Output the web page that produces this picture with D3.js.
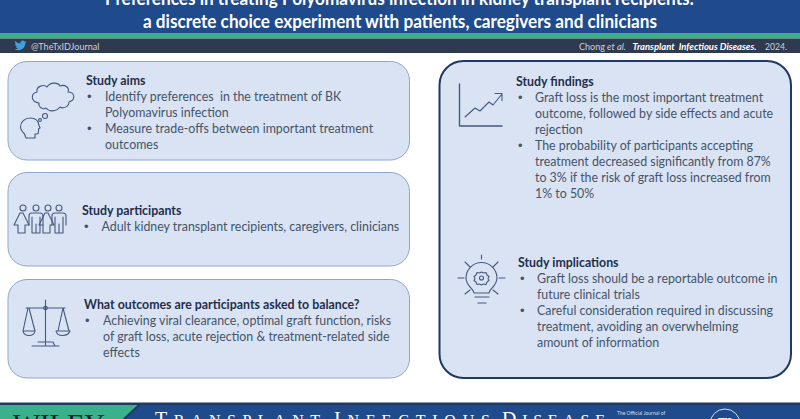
<!DOCTYPE html>
<html><head><meta charset="utf-8">
<script src="https://cdn.jsdelivr.net/npm/d3@7"></script>
<style>html,body{margin:0;padding:0;background:#fff;overflow:hidden}svg{display:block}</style>
</head><body>
<svg id="c" width="800" height="419"></svg>
<script>
const titleLines = ["Preferences in treating Polyomavirus infection in kidney transplant recipients:",
  "a discrete choice experiment with patients, caregivers and clinicians"];
const handle = "@TheTxIDJournal";
const panelNames = ["aims","participants","balance","findings","implications"];
const panelHeads = ["Study aims","Study participants","What outcomes are participants asked to balance?","Study findings","Study implications"];
const aimsBullets = [["Identify preferences  in the treatment of BK","Polyomavirus infection"],["Measure trade-offs between important treatment","outcomes"]];
const participantBullets = [["Adult kidney transplant recipients, caregivers, clinicians"]];
const balanceBullets = [["Achieving viral clearance, optimal graft function, risks","of graft loss, acute rejection & treatment-related side","effects"]];
const findingBullets = [["Graft loss is the most important treatment","outcome, followed by side effects and acute","rejection"],["The probability of participants accepting","treatment decreased significantly from 87%","to 3% if the risk of graft loss increased from","1% to 50%"]];
const implicationBullets = [["Graft loss should be a reportable outcome in","future clinical trials"],["Careful consideration required in discussing","treatment, avoiding an overwhelming","amount of information"]];
const allBullets = [aimsBullets,participantBullets,balanceBullets,findingBullets,implicationBullets];

const layout = {
  aims:{x:8,y:61.5,w:401.5,h:98.5,r:19,hx:86,hy:85,bx:87,tx:105,sw:1},
  participants:{x:8,y:172.5,w:401.5,h:93.5,r:19,hx:82,hy:214.5,bx:84,tx:101.5,sw:1},
  balance:{x:8,y:279.5,w:401.5,h:98.5,r:19,hx:84,hy:309,bx:85,tx:103,sw:1},
  findings:{x:439.5,y:61,w:351.5,h:317,r:24,hx:516,hy:86,bx:518,tx:535,sw:2},
  implications:{hx:518,hy:267,bx:520,tx:537}
};
const svg = d3.select("#c");
const font = "Lato, 'Open Sans', sans-serif";
const bodyCol = "#44546a", headCol="#1f2f4d", iconCol="#44597f";
const squeeze = (sel,k)=>{const n=sel.node(); sel.attr("textLength",n.getComputedTextLength()*k).attr("lengthAdjust","spacingAndGlyphs"); return sel;};

// bands
const bands=[[0,33,"#1f4a8c"],[33,5.5,"#3bb18a"],[38.5,14.5,"#2f3a50"],[402.5,2.5,"#1f3864"],[405,14,"#1f4a8c"]];
svg.selectAll("rect.band").data(bands).join("rect").attr("class","band")
  .attr("x",0).attr("width",800).attr("y",d=>d[0]).attr("height",d=>d[1]).attr("fill",d=>d[2]);
svg.append("path").attr("d","M0 405H139L124 419H0Z").attr("fill","#3bb18a");
svg.append("path").attr("d","M139 405L124 419").attr("stroke","#1f3864").attr("stroke-width",2);

// title
svg.selectAll("text.title").data(titleLines).join("text").attr("class","title")
  .attr("x",(d,i)=>i?400:399.5).attr("y",(d,i)=>i?28:4.5).attr("text-anchor","middle")
  .attr("fill","#fff").attr("font-family",font).attr("font-weight",700).attr("font-size",19)
  .attr("textLength",(d,i)=>i?514:589).attr("lengthAdjust","spacingAndGlyphs").text(d=>d);

// info bar
svg.append("path").attr("transform","translate(14.5,39.5) scale(.5)")
  .attr("d","M24 4.6c-.9.4-1.8.7-2.8.8 1-.6 1.8-1.6 2.2-2.7-1 .6-2 1-3.1 1.2C19.3 2.8 18 2.2 16.6 2.2c-2.7 0-4.9 2.2-4.9 4.9 0 .4 0 .8.1 1.1C7.7 8 4.1 6 1.7 3 1.2 3.7 1 4.6 1 5.500c0 1.700.9 3.200 2.200 4.100-.8 0-1.600-.2-2.200-.6v.1c0 2.400 1.700 4.400 3.900 4.800-.7.2-1.500.2-2.200.1.6 2 2.400 3.400 4.600 3.400-1.700 1.300-3.800 2.100-6.100 2.100-.4 0-.8 0-1.200-.1 2.200 1.400 4.800 2.200 7.500 2.200 9.100 0 14-7.500 14-14v-.6c1-.7 1.800-1.600 2.500-2.500z")
  .attr("fill","#3f9fe0");
svg.append("text").attr("x",31).attr("y",49.5).attr("fill","#c9d0da").attr("font-family",font).attr("font-size",10).attr("textLength",68.5).attr("lengthAdjust","spacingAndGlyphs").text(handle);
const citeParts=[["Chong",579,26,"normal",400,"#c9d0da"],["et al.",607,19,"italic",400,"#c9d0da"],["Transplant  Infectious Diseases.",632.5,124,"italic",700,"#fff"],["2024.",765,22,"normal",400,"#c9d0da"]];
svg.selectAll("text.cite").data(citeParts).join("text").attr("class","cite")
  .attr("x",d=>d[1]).attr("y",49.5).attr("textLength",d=>d[2]).attr("lengthAdjust","spacingAndGlyphs")
  .attr("font-style",d=>d[3]).attr("font-weight",d=>d[4]).attr("fill",d=>d[5]).attr("font-family",font).attr("font-size",10)
  .style("white-space","pre").text(d=>d[0]);

// panels
const boxes = panelNames.filter(n=>layout[n].w).map(n=>layout[n]);
svg.selectAll("rect.panel").data(boxes).join("rect").attr("class","panel")
  .attr("x",d=>d.x).attr("y",d=>d.y).attr("width",d=>d.w).attr("height",d=>d.h).attr("rx",d=>d.r)
  .attr("fill","#dae3f3").attr("stroke",d=>d.sw>1?"#1f3864":"#8ea6cf").attr("stroke-width",d=>d.sw);

// text
const lh = 16;
panelNames.forEach((n,i)=>{
  const L = layout[n];
  squeeze(svg.append("text").attr("x",L.hx).attr("y",L.hy).attr("fill",headCol).attr("font-family",font)
    .attr("font-weight",700).attr("font-size",13).text(panelHeads[i]),0.95);
  let row=1;
  allBullets[i].forEach(b=>{
    svg.append("text").attr("x",L.bx).attr("y",L.hy+row*lh).attr("fill",bodyCol).attr("font-family","Arial, 'Liberation Sans'").attr("font-size",13).text("•");
    b.forEach(line=>{
      squeeze(svg.append("text").attr("x",L.tx).attr("y",L.hy+row*lh).attr("fill",bodyCol).attr("font-family",font)
        .attr("font-size",13.4).style("white-space","pre").text(line),0.925);
      row++;
    });
  });
});

// icons
const icon = ()=>svg.append("g").attr("fill","none").attr("stroke",iconCol).attr("stroke-width",1.1).attr("stroke-linecap","round").attr("stroke-linejoin","round");
// thought cloud
let g = icon();
g.append("path").attr("d","M39 103c-8-1-9-9-2-11c-1-6 7-8 10-5c3-5 11-5 13-1c5-2 10 2 8 6c7 0 8 8 1 10c0 5-6 7-9 5c-4 5-11 5-14 1c-3 2-8-1-7-5Z");
g.append("circle").attr("cx",45).attr("cy",116).attr("r",2.5);
g.append("circle").attr("cx",40).attr("cy",120).attr("r",1.4);
g.append("path").attr("d","M26 138h9v-4h2c1.500 0 1.500-1 1.500-2v-3l1.500-1l-1.500-4c0-3-3-6-8-6c-6 0-10 4-10 9c0 3 2 5 4 7Z");
// people
g = icon();
[23,36,48,59].forEach((x,i)=>{
  g.append("circle").attr("cx",x).attr("cy",208).attr("r",3);
  if(i%2==0) g.append("path").attr("d",`M${x-3} 213l-6 12h4v8h7v-8h4l-6-12Z`);
  else g.append("path").attr("d",`M${x-4} 213c-2 0-3 1-3 3v9M${x+4} 213c2 0 3 1 3 3v9M${x-4} 213h8M${x-4} 217v16h8v-16M${x} 224v9`);
});
// scales
g = icon();
g.append("path").attr("d","M45.500 300v46M32 346h27M38 342h15l2 4M26 308h39M28 308l-5 23M29 308l6 23M63 308l-5 23M63 308l6 23M23 331c1 6 11 6 12 0ZM56 331c1 6 12 6 14 0Z");
g.append("circle").attr("cx",45.500).attr("cy",308).attr("r",1.800);
// chart
g = icon();
g.append("path").attr("d","M459.500 84v42h42.500").attr("stroke-width",1.4);
g.append("path").attr("d","M465 117l10-9l5 3l9-9l4 3l9-11M495 93.500h7v7");
// bulb
g = icon();
g.append("path").attr("d","M474 293c0-4-8-7-8-15a15.500 15.500 0 0 1 31 0c0 8-8 11-8 15Z");
g.append("path").attr("d","M475 297h14M478 303h8").attr("stroke-width",1.2);
g.append("circle").attr("cx",481.500).attr("cy",278).attr("r",2);
g.append("path").attr("d","M481.500 272l2 1l2.500 -.5l1 2.500l2 1.500l-1 2l1 2l-2 1.500l-1 2.500l-2.500 -.5l-2 1l-2 -1l-2.500 .5l-1-2.500l-2-1.500l1-2l-1-2l2-1.500l1-2.500l2.500 .5Z");
g.append("path").attr("d","M481.500 255v4M465 262l5 5M498 262l-5 5M458 278h6M499 278h6M465 294l5-4M498 294l-5-4");

// footer
svg.append("text").attr("x",13).attr("y",434).attr("fill","#17202f").attr("font-family","'Liberation Serif',serif").attr("font-size",30).attr("textLength",92).attr("lengthAdjust","spacingAndGlyphs").text("WILEY");
const footWords=[["T","RANSPLANT",155,165],["I","NFECTIOUS",334,156],["D","ISEASE",502,103]];
footWords.forEach(w=>{
  const t=svg.append("text").attr("x",w[2]).attr("y",426).attr("fill","#fff").attr("font-family","'Liberation Serif',serif").attr("font-size",20).attr("textLength",w[3]).attr("lengthAdjust","spacing");
  t.append("tspan").text(w[0]);
  t.append("tspan").attr("font-size",16).text(w[1]);
});
svg.append("text").attr("x",617).attr("y",415).attr("fill","#d7deea").attr("font-family",font).attr("font-size",5).text("The Official Journal of");
svg.append("circle").attr("cx",725).attr("cy",424).attr("r",15).attr("fill","none").attr("stroke","#d7deea").attr("stroke-width",1);
svg.append("text").attr("x",725).attr("y",428).attr("text-anchor","middle").attr("fill","#fff").attr("font-family","'Liberation Serif',serif").attr("font-size",15).text("TI");
</script>
</body></html>
